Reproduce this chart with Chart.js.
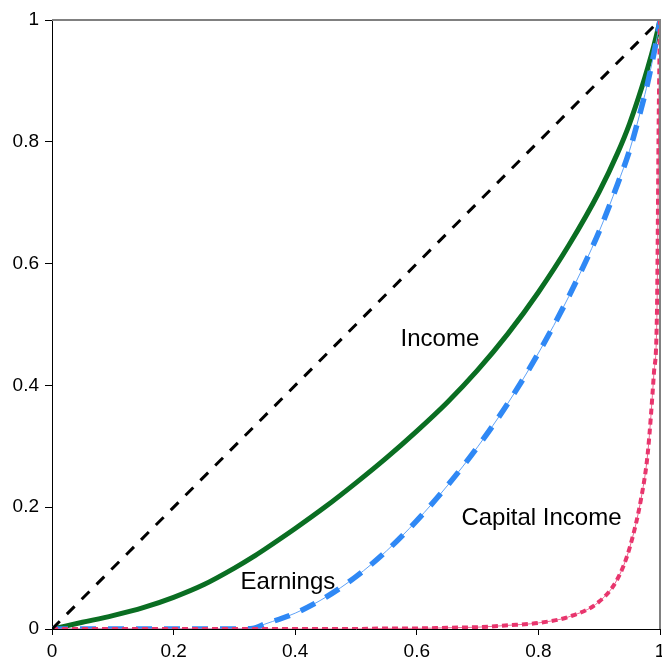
<!DOCTYPE html>
<html>
<head>
<meta charset="utf-8">
<script src="https://cdn.jsdelivr.net/npm/chart.js@4.4.1/dist/chart.umd.min.js"></script>
<style>
  html, body { margin: 0; padding: 0; background: #fff; }
  #wrap { width: 662px; height: 662px; }
</style>
</head>
<body>
<div id="wrap"><canvas id="c" width="662" height="662"></canvas></div>
<script>
// Cumulative population share (x) and cumulative shares (y)
const populationShare = [0, 0.05, 0.1, 0.15, 0.2, 0.25, 0.3, 0.33, 0.35, 0.4, 0.45, 0.5, 0.55, 0.6, 0.65, 0.7, 0.75, 0.8, 0.85, 0.9, 0.93, 0.95, 0.97, 0.98, 0.99, 0.995, 0.998, 1];
const incomeShare   = [0, 0.011, 0.022, 0.035, 0.052, 0.073, 0.100, 0.118, 0.131, 0.165, 0.201, 0.240, 0.281, 0.325, 0.372, 0.425, 0.485, 0.553, 0.630, 0.718, 0.781, 0.830, 0.889, 0.922, 0.958, 0.978, 0.991, 1];
const earningsShare = [0, 0, 0, 0, 0, 0, 0, 0.001, 0.008, 0.026, 0.052, 0.086, 0.128, 0.178, 0.235, 0.299, 0.371, 0.453, 0.546, 0.653, 0.730, 0.786, 0.858, 0.898, 0.945, 0.971, 0.988, 1];
const capitalShare  = [0, 0, 0, 0, 0, 0, 0, 0, 0, 0, 0, 0, 0.001, 0.001, 0.002, 0.003, 0.006, 0.010, 0.020, 0.045, 0.082, 0.133, 0.220, 0.290, 0.420, 0.520, 0.850, 1];
const equalityX = [0, 1];
const equalityY = [0, 1];
const tickValues = [0, 0.2, 0.4, 0.6, 0.8, 1];
const tickLabels = ['0', '0.2', '0.4', '0.6', '0.8', '1'];

// Curve labels (text + anchor in data units)
const curveLabels = ['Income', 'Earnings', 'Capital Income'];
const curveLabelX = [0.638, 0.388, 0.805];
const curveLabelY = [0.475, 0.077, 0.181];

const toPoints = (xs, ys) => xs.map((x, i) => ({ x: x, y: ys[i] }));

const FONT = "'Liberation Sans', Arial, sans-serif";

const framePlugin = {
  id: 'frame',
  afterDraw(chart) {
    const { ctx, chartArea: a } = chart;
    ctx.save();
    ctx.strokeStyle = '#808080';
    ctx.lineWidth = 2;
    ctx.beginPath();
    ctx.moveTo(a.left, a.top);
    ctx.lineTo(a.right, a.top);
    ctx.lineTo(a.right, a.bottom);
    ctx.stroke();
    ctx.restore();
  }
};

const labelPlugin = {
  id: 'curveLabels',
  afterDatasetsDraw(chart) {
    const { ctx, scales } = chart;
    ctx.save();
    ctx.fillStyle = '#000';
    ctx.font = '24px ' + FONT;
    ctx.textAlign = 'center';
    ctx.textBaseline = 'middle';
    curveLabels.forEach((t, i) => {
      ctx.fillText(t, scales.x.getPixelForValue(curveLabelX[i]), scales.y.getPixelForValue(curveLabelY[i]));
    });
    ctx.restore();
  }
};

new Chart(document.getElementById('c'), {
  type: 'scatter',
  data: {
    datasets: [
      { label: 'Income', data: toPoints(populationShare, incomeShare), showLine: true,
        borderColor: '#0a6e22', borderWidth: 5, pointRadius: 0, cubicInterpolationMode: 'monotone', order: 6 },
      { label: 'Earnings (thin)', data: toPoints(populationShare, earningsShare), showLine: true,
        borderColor: '#5fa2f7', borderWidth: 1, pointRadius: 0, cubicInterpolationMode: 'monotone', order: 5 },
      { label: 'Earnings', data: toPoints(populationShare, earningsShare), showLine: true,
        borderColor: '#2f88f5', borderWidth: 5.5, borderDash: [16, 12], pointRadius: 0, cubicInterpolationMode: 'monotone', order: 4 },
      { label: 'Capital Income (thin)', data: toPoints(populationShare, capitalShare), showLine: true,
        borderColor: '#ec6690', borderWidth: 1, pointRadius: 0, cubicInterpolationMode: 'monotone', order: 3 },
      { label: 'Capital Income', data: toPoints(populationShare, capitalShare), showLine: true,
        borderColor: '#e8356d', borderWidth: 4, borderDash: [6, 4], pointRadius: 0, cubicInterpolationMode: 'monotone', order: 2 },
      { label: 'Equality', data: toPoints(equalityX, equalityY), showLine: true,
        borderColor: '#000000', borderWidth: 3, borderDash: [11, 10], pointRadius: 0, order: 1 }
    ]
  },
  options: {
    responsive: false,
    animation: false,
    devicePixelRatio: 1,
    layout: { padding: { top: 20, right: 2, left: 0, bottom: 0 } },
    plugins: { legend: { display: false }, tooltip: { enabled: false } },
    scales: {
      x: {
        type: 'linear', min: 0, max: 1,
        afterBuildTicks(s) { s.ticks = tickValues.map(v => ({ value: v })); },
        afterFit(s) { s.height = 33; s.paddingLeft = 0; s.paddingRight = 0; },
        border: { color: '#000', width: 1 },
        grid: { display: true, drawOnChartArea: false, drawTicks: true, tickLength: 6, color: '#000' },
        ticks: { color: '#000', font: { family: FONT, size: 19 }, padding: 5, maxRotation: 0,
          callback: (v) => tickLabels[tickValues.indexOf(v)] }
      },
      y: {
        type: 'linear', min: 0, max: 1,
        afterBuildTicks(s) { s.ticks = tickValues.map(v => ({ value: v })); },
        afterFit(s) { s.width = 52; s.paddingTop = 0; s.paddingBottom = 0; },
        border: { color: '#000', width: 1 },
        grid: { display: true, drawOnChartArea: false, drawTicks: true, tickLength: 7, color: '#000' },
        ticks: { color: '#000', font: { family: FONT, size: 19 }, padding: 6,
          callback: (v) => tickLabels[tickValues.indexOf(v)] }
      }
    }
  },
  plugins: [framePlugin, labelPlugin]
});
</script>
</body>
</html>
